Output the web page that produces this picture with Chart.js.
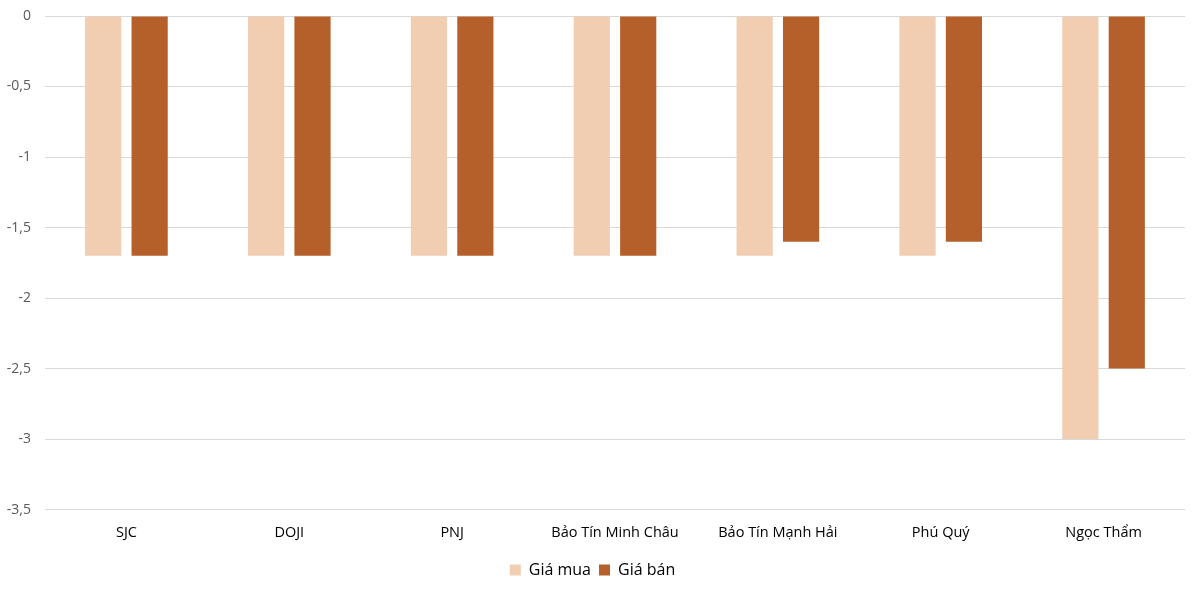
<!DOCTYPE html>
<html>
<head>
<meta charset="utf-8">
<script src="https://cdn.jsdelivr.net/npm/chart.js@4"></script>
<style>
  html, body { margin: 0; padding: 0; background: #fff; }
  #wrap { width: 1200px; height: 592px; }
</style>
</head>
<body>
<div id="wrap"><canvas id="goldChart" width="1200" height="592"></canvas></div>
<script>
// dữ liệu biểu đồ
const categories = ["SJC", "DOJI", "PNJ", "Bảo Tín Minh Châu", "Bảo Tín Mạnh Hải", "Phú Quý", "Ngọc Thẩm"];
const giaMua = [-1.7, -1.7, -1.7, -1.7, -1.7, -1.7, -3];
const giaBan = [-1.7, -1.7, -1.7, -1.7, -1.6, -1.6, -2.5];
const seriesNames = ["Giá mua", "Giá bán"];
const yTicks = [0, -0.5, -1, -1.5, -2, -2.5, -3, -3.5];

const fontFamily = "'Open Sans', 'Liberation Sans', sans-serif";

const ctx = document.getElementById("goldChart").getContext("2d");

new Chart(ctx, {
    type: "bar",
    data: {
        labels: categories,
        datasets: [
            { label: seriesNames[0], data: giaMua, backgroundColor: "#F1CEB1" },
            { label: seriesNames[1], data: giaBan, backgroundColor: "#B5602A" }
        ]
    },
    options: {
        responsive: false,
        animation: false,
        layout: { padding: { top: 16, right: 15, bottom: 4, left: 0 } },
        datasets: {
            bar: { categoryPercentage: 0.57, barPercentage: 0.78 }
        },
        scales: {
            x: {
                grid: { display: false },
                border: { display: false },
                afterFit: function (axis) { axis.height += 5; },
                ticks: {
                    color: "#000",
                    font: { family: fontFamily, size: 14.5 },
                    padding: 7,
                    maxRotation: 0
                }
            },
            y: {
                min: -3.5,
                max: 0,
                afterFit: function (axis) {
                    axis.width = 45;
                    axis.paddingTop = 0;
                    axis.paddingBottom = 0;
                },
                afterBuildTicks: function (axis) {
                    axis.ticks = yTicks.map(v => ({ value: v }));
                },
                grid: { color: "#D9D9D9", lineWidth: 1, drawTicks: false },
                border: { display: false },
                ticks: {
                    color: "#595959",
                    font: { family: fontFamily, size: 14 },
                    padding: 14,
                    callback: function (value) {
                        return String(value).replace(".", ",");
                    }
                }
            }
        },
        plugins: {
            legend: {
                position: "bottom",
                labels: {
                    color: "#000",
                    font: { family: fontFamily, size: 16 },
                    boxWidth: 11,
                    boxHeight: 11,
                    padding: 8
                }
            },
            tooltip: { enabled: false }
        }
    }
});
</script>
</body>
</html>
